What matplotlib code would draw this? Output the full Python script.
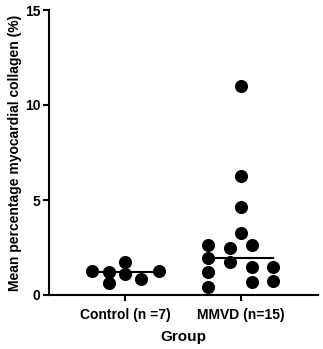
import matplotlib
matplotlib.use("Agg")
import matplotlib.pyplot as plt

plt.rcParams['font.family'] = ['Liberation Sans', 'DejaVu Sans']
plt.rcParams['font.weight'] = 'bold'

# data
groups = ['Control (n =7)', 'MMVD (n=15)']
control = [1.28, 1.23, 0.61, 1.72, 1.10, 0.84, 1.28]
mmvd = [11.0, 6.26, 4.61, 3.25, 2.63, 2.49, 2.63, 1.93, 1.72,
        1.46, 1.46, 1.19, 0.44, 0.70, 0.75]
y_ticks = [0, 5, 10, 15]

# horizontal scatter offsets (layout only)
control_dx = [-0.28, -0.14, -0.14, 0.0, 0.0, 0.14, 0.29]
mmvd_dx = [0.0, 0.0, 0.0, 0.0, -0.28, -0.093, 0.093, -0.28, -0.093,
           0.093, 0.28, -0.28, -0.28, 0.093, 0.28]

fig = plt.figure(figsize=(3.23, 3.49), dpi=100)
ax = fig.add_axes([49/323, 54/349, 269/323, 285/349])

for i, (vals, dx) in enumerate([(control, control_dx), (mmvd, mmvd_dx)]):
    xs = [i + d for d in dx]
    ax.plot(xs, vals, 'o', color='black', markersize=8.4, zorder=3)
    med = sorted(vals)[len(vals) // 2]
    ax.plot([min(xs), max(xs)], [med, med], color='black', lw=1.5, zorder=2)

ax.set_xlim(-0.655, 1.665)
ax.set_ylim(0, 15)
ax.set_xticks([0, 1])
ax.set_xticklabels(groups, fontsize=10, fontweight='bold')
ax.set_yticks(y_ticks)
ax.set_yticklabels([str(t) for t in y_ticks], fontsize=10, fontweight='bold')
ax.set_xlabel('Group', fontsize=11, fontweight='bold', labelpad=6)
ax.set_ylabel('Mean percentage myocardial collagen (%)', fontsize=10,
              fontweight='bold', labelpad=2)

for s in ['top', 'right']:
    ax.spines[s].set_visible(False)
for s in ['left', 'bottom']:
    ax.spines[s].set_linewidth(1.5)
ax.tick_params(width=1.5, length=4, pad=2)
ax.tick_params(axis='x', pad=5)

fig.savefig('out.png', dpi=100)
